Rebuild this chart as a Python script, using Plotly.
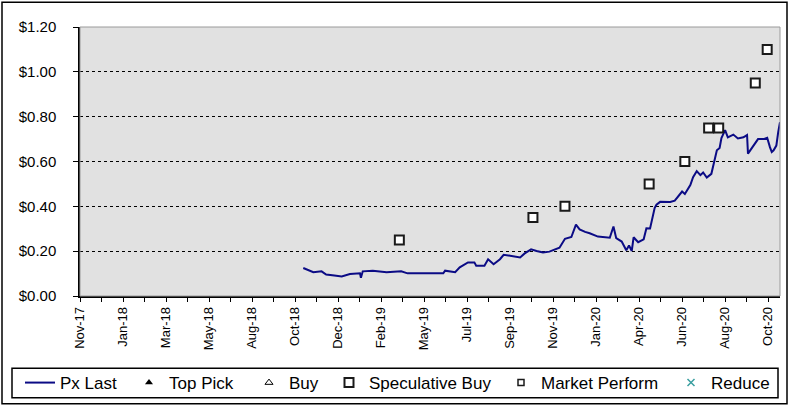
import plotly.graph_objects as go

# ---- data ----
# x is the trading-session number counted from the first axis label (Nov-17)
tick_labels = ["Nov-17", "Jan-18", "Mar-18", "May-18", "Aug-18", "Oct-18", "Dec-18",
               "Feb-19", "May-19", "Jul-19", "Sep-19", "Nov-19", "Jan-20", "Apr-20",
               "Jun-20", "Aug-20", "Oct-20"]
sessions_per_label = 47

line_day = [244, 255, 264, 269, 278, 286, 295, 306, 307, 309, 320, 335, 351, 358, 397, 399,
            410, 415, 424, 431, 433, 442, 446, 452, 459, 463, 470, 481, 486, 493, 499, 506,
            513, 519, 524, 530, 537, 542, 546, 552, 557, 566, 576, 579, 583, 586, 592, 597,
            600, 603, 605, 610, 616, 619, 623, 625, 628, 630, 634, 645, 650, 658, 661, 667,
            670, 674, 678, 681, 685, 690, 693, 696, 699, 701, 705, 708, 714, 719, 725, 729,
            730, 734, 738, 741, 747, 751, 754, 756, 758, 761, 763, 765]
line_px = [0.125, 0.106, 0.110, 0.096, 0.091, 0.087, 0.098, 0.101, 0.081, 0.110, 0.113, 0.106,
           0.110, 0.101, 0.101, 0.113, 0.106, 0.128, 0.150, 0.150, 0.135, 0.135, 0.164, 0.142,
           0.164, 0.184, 0.180, 0.172, 0.190, 0.208, 0.201, 0.194, 0.198, 0.208, 0.215, 0.255,
           0.263, 0.318, 0.297, 0.286, 0.280, 0.265, 0.263, 0.260, 0.310, 0.258, 0.243, 0.204,
           0.225, 0.201, 0.262, 0.240, 0.253, 0.302, 0.301, 0.341, 0.392, 0.407, 0.420, 0.419,
           0.425, 0.466, 0.455, 0.495, 0.530, 0.557, 0.539, 0.551, 0.528, 0.545, 0.605, 0.650,
           0.660, 0.705, 0.740, 0.708, 0.720, 0.703, 0.708, 0.718, 0.635, 0.660, 0.685, 0.700,
           0.700, 0.706, 0.664, 0.642, 0.650, 0.671, 0.730, 0.775]

spec_day = [349, 495, 530, 622, 661, 687, 698, 738, 751]
spec_px = [0.25, 0.35, 0.40, 0.50, 0.60, 0.75, 0.75, 0.95, 1.10]

y_ticks = [0.0, 0.2, 0.4, 0.6, 0.8, 1.0, 1.2]
y_labels = ["$0.00", "$0.20", "$0.40", "$0.60", "$0.80", "$1.00", "$1.20"]

FONT = "Liberation Sans, Arial, sans-serif"

# tick marks every half label interval, labels on every other tick
tickvals, ticktext = [], []
for i, lab in enumerate(tick_labels):
    tickvals.append(i * sessions_per_label)
    ticktext.append(lab)
    if i < len(tick_labels) - 1:
        tickvals.append(i * sessions_per_label + sessions_per_label / 2)
        ticktext.append("")

fig = go.Figure()
fig.add_trace(go.Scatter(x=line_day, y=line_px, mode="lines", name="Px Last",
                         line=dict(color="#0b0b85", width=2), legendwidth=64))
fig.add_trace(go.Scatter(x=[None], y=[None], mode="markers", name="Top Pick",
                         marker=dict(symbol="triangle-up", size=7, color="black"),
                         legendwidth=75))
fig.add_trace(go.Scatter(x=[None], y=[None], mode="markers", name="Buy",
                         marker=dict(symbol="triangle-up-open", size=7, color="black",
                                     line=dict(width=1)), legendwidth=35))
fig.add_trace(go.Scatter(x=spec_day, y=spec_px, mode="markers", name="Speculative Buy",
                         marker=dict(symbol="square", size=9, color="white",
                                     line=dict(color="#1a1a1a", width=2)), legendwidth=127))
fig.add_trace(go.Scatter(x=[None], y=[None], mode="markers", name="Market Perform",
                         marker=dict(symbol="square", size=6, color="white",
                                     line=dict(color="#1a1a1a", width=1.5)), legendwidth=125))
fig.add_trace(go.Scatter(x=[None], y=[None], mode="markers", name="Reduce",
                         marker=dict(symbol="x-thin-open", size=7, color="#3a9fa0",
                                     line=dict(color="#3a9fa0", width=1.5)), legendwidth=60))

L, R, T, B = 80, 9, 27, 111
W, H = 789, 410
pw, ph = W - L - R, H - T - B


def px_x(p):
    return (p - L) / pw


def px_y(p):
    return (H - B - p) / ph


fig.update_layout(
    width=W, height=H,
    margin=dict(l=L, r=R, t=T, b=B),
    paper_bgcolor="white",
    plot_bgcolor="#e1e1e1",
    font=dict(family=FONT, color="black", size=13),
    showlegend=True,
    legend=dict(orientation="h", x=px_x(20), xanchor="left", y=px_y(387), yanchor="middle",
                bgcolor="rgba(0,0,0,0)", borderwidth=0, font=dict(size=17),
                itemclick=False, itemdoubleclick=False),
    xaxis=dict(range=[0, 765], tickmode="array", tickvals=tickvals, ticktext=ticktext,
               tickangle=-90, ticks="outside", ticklen=4, tickcolor="black",
               showline=True, linecolor="black", linewidth=1.5, showgrid=False,
               zeroline=False, tickfont=dict(size=13)),
    yaxis=dict(range=[0, 1.2], tickmode="array", tickvals=y_ticks, ticktext=y_labels,
               ticks="outside", ticklen=5, tickcolor="black",
               showline=True, linecolor="black", linewidth=1.5, showgrid=True,
               gridcolor="black", griddash="dot", gridwidth=1, zeroline=False,
               tickfont=dict(size=15), ticklabelstandoff=14),
    shapes=[
        # plot area top/right border
        dict(type="rect", xref="paper", yref="paper", x0=0, x1=1, y0=0, y1=1,
             line=dict(color="#9a9a9a", width=1), layer="above"),
        # legend box
        dict(type="rect", xref="paper", yref="paper", x0=px_x(12), x1=px_x(778),
             y0=px_y(402), y1=px_y(372), line=dict(color="black", width=1.5)),
        # outer chart border
        dict(type="rect", xref="paper", yref="paper", x0=px_x(2), x1=px_x(787),
             y0=px_y(408), y1=px_y(2), line=dict(color="black", width=1.5)),
    ],
)

fig.write_html("out.html", config={"displayModeBar": False},
               post_script="document.body.style.margin='0px';")
